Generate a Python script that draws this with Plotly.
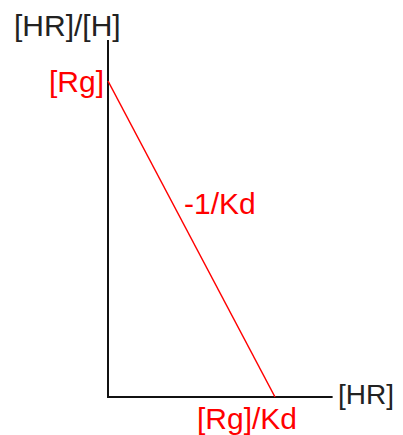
import plotly.graph_objects as go

# Scatchard plot data (schematic)
Rg = 1.0          # y-intercept [Rg]
Kd = 0.5          # dissociation constant
x_line = [0.0, Rg / Kd]
y_line = [Rg, 0.0]
x_axis_max = 2.69
y_axis_max = 1.13

axis_x_label = "[HR]"
axis_y_label = "[HR]/[H]"
y_int_label = "[Rg]"
x_int_label = "[Rg]/Kd"
slope_label = "-1/Kd"

# page body has an 8px margin, so the figure is made 8px smaller and shifted
W, H = 395, 427
ox, oy = 100, 389            # origin in figure pixels
sx = 167 / (Rg / Kd)         # px per x unit
sy = 316 / Rg                # px per y unit

fig = go.Figure()
# axes
fig.add_trace(go.Scatter(x=[0, 0, x_axis_max], y=[y_axis_max, 0, 0], mode="lines",
                         line=dict(color="#111111", width=2), hoverinfo="skip"))
# Scatchard line
fig.add_trace(go.Scatter(x=x_line, y=y_line, mode="lines",
                         line=dict(color="#ff0000", width=1.5), hoverinfo="skip"))

font = dict(family="Liberation Sans, Arial, sans-serif", size=30)
red = dict(font, color="#ff0000")
black = dict(font, color="#222222")
ann = [
    dict(x=-41 / sx, y=372 / sy, text=axis_y_label, font=black, xanchor="center", yanchor="middle"),
    dict(x=-2 / sx, y=Rg, text=y_int_label, font=red, xanchor="right", yanchor="middle"),
    dict(x=74 / sx, y=194 / sy, text=slope_label, font=red, xanchor="left", yanchor="middle"),
    dict(x=228 / sx, y=3 / sy, text=axis_x_label, font=dict(black, size=28), xanchor="left", yanchor="middle"),
    dict(x=(Rg / Kd) - 28 / sx, y=-21 / sy, text=x_int_label, font=red, xanchor="center", yanchor="middle"),
]
for a in ann:
    a.update(showarrow=False, xref="x", yref="y")

fig.update_layout(
    width=W, height=H, margin=dict(l=0, r=0, t=0, b=0),
    paper_bgcolor="white", plot_bgcolor="white", showlegend=False,
    xaxis=dict(range=[-ox / sx, (W - ox) / sx], visible=False, fixedrange=True),
    yaxis=dict(range=[-(H - oy) / sy, oy / sy], visible=False, fixedrange=True),
    annotations=ann,
)
fig.write_html("out.html", config={"displayModeBar": False})
